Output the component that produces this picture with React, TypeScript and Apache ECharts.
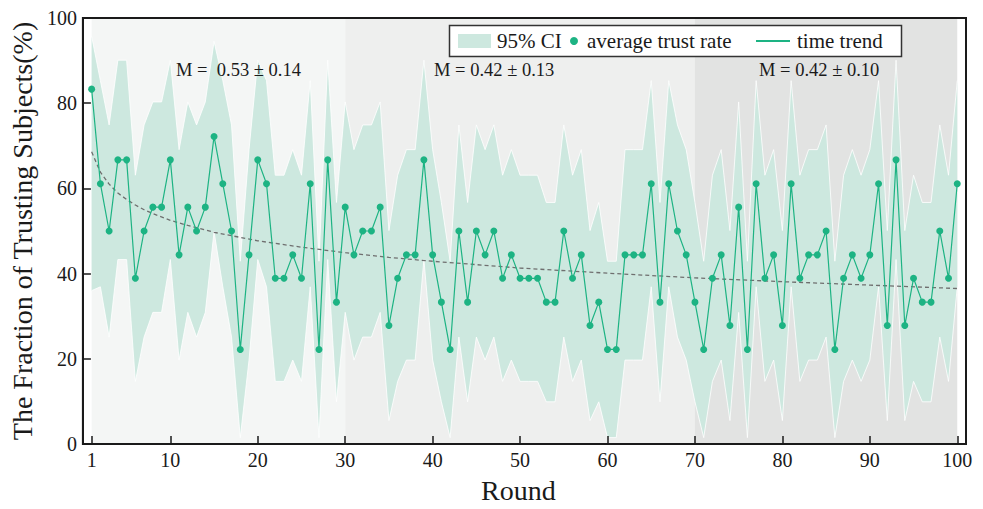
import React, { useEffect, useRef } from "react";
import * as echarts from "echarts";

// Rounds 1..100 (x positions)
const rounds: number[] = Array.from({ length: 100 }, (_, i) => i + 1);

// Average trust rate (%) per round
const means: number[] = [
  83.3, 61.1, 50, 66.7, 66.7, 38.9, 50, 55.6, 55.6, 66.7,
  44.4, 55.6, 50, 55.6, 72.2, 61.1, 50, 22.2, 44.4, 66.7,
  61.1, 38.9, 38.9, 44.4, 38.9, 61.1, 22.2, 66.7, 33.3, 55.6,
  44.4, 50, 50, 55.6, 27.8, 38.9, 44.4, 44.4, 66.7, 44.4,
  33.3, 22.2, 50, 33.3, 50, 44.4, 50, 38.9, 44.4, 38.9,
  38.9, 38.9, 33.3, 33.3, 50, 38.9, 44.4, 27.8, 33.3, 22.2,
  22.2, 44.4, 44.4, 44.4, 61.1, 33.3, 61.1, 50, 44.4, 33.3,
  22.2, 38.9, 44.4, 27.8, 55.6, 22.2, 61.1, 38.9, 44.4, 27.8,
  61.1, 38.9, 44.4, 44.4, 50, 22.2, 38.9, 44.4, 38.9, 44.4,
  61.1, 27.8, 66.7, 27.8, 38.9, 33.3, 33.3, 50, 38.9, 61.1,
];

// 95% CI upper bound per round
const ciUpper: number[] = [
  95.7, 85.3, 74.9, 90.1, 90.1, 63.1, 74.9, 80.3, 80.3, 90.1,
  69.1, 80.3, 74.9, 80.3, 94.5, 85.3, 74.9, 42.9, 69.1, 90.1,
  85.3, 63.1, 63.1, 69.1, 63.1, 85.3, 42.9, 90.1, 56.7, 80.3,
  69.1, 74.9, 74.9, 80.3, 50.1, 63.1, 69.1, 69.1, 90.1, 69.1,
  56.7, 42.9, 74.9, 56.7, 74.9, 69.1, 74.9, 63.1, 69.1, 63.1,
  63.1, 63.1, 56.7, 56.7, 74.9, 63.1, 69.1, 50.1, 56.7, 42.9,
  42.9, 69.1, 69.1, 69.1, 85.3, 56.7, 85.3, 74.9, 69.1, 56.7,
  42.9, 63.1, 69.1, 50.1, 80.3, 42.9, 85.3, 63.1, 69.1, 50.1,
  85.3, 63.1, 69.1, 69.1, 74.9, 42.9, 63.1, 69.1, 63.1, 69.1,
  85.3, 50.1, 90.1, 50.1, 63.1, 56.7, 56.7, 74.9, 63.1, 85.3,
];

// 95% CI lower bound per round
const ciLower: number[] = [
  36.0, 36.9, 25.1, 43.3, 43.3, 14.7, 25.1, 30.9, 30.9, 43.3,
  19.7, 30.9, 25.1, 30.9, 49.9, 36.9, 25.1, 1.5, 19.7, 43.3,
  36.9, 14.7, 14.7, 19.7, 14.7, 36.9, 1.5, 43.3, 9.9, 30.9,
  19.7, 25.1, 25.1, 30.9, 5.5, 14.7, 19.7, 19.7, 43.3, 19.7,
  9.9, 1.5, 25.1, 9.9, 25.1, 19.7, 25.1, 14.7, 19.7, 14.7,
  14.7, 14.7, 9.9, 9.9, 25.1, 14.7, 19.7, 5.5, 9.9, 1.5,
  1.5, 19.7, 19.7, 19.7, 36.9, 9.9, 36.9, 25.1, 19.7, 9.9,
  1.5, 14.7, 19.7, 5.5, 30.9, 1.5, 36.9, 14.7, 19.7, 5.5,
  36.9, 14.7, 19.7, 19.7, 25.1, 1.5, 14.7, 19.7, 14.7, 19.7,
  36.9, 5.5, 43.3, 5.5, 14.7, 9.9, 9.9, 25.1, 14.7, 36.9,
];

// Time trend (dashed) read at selected rounds
const trendRounds: number[] = [1, 2, 3, 4, 5, 6, 7, 8, 10, 12, 15, 20, 25, 30, 35, 40, 50, 60, 70, 80, 90, 100];
const trendValues: number[] = [68.6, 63.8, 61.0, 58.9, 57.4, 56.1, 55.0, 54.1, 52.5, 51.3, 49.7, 47.7, 46.2, 44.9, 43.8, 42.9, 41.3, 40.1, 39.0, 38.1, 37.3, 36.5];

// Phase shading ranges (rounds)
const phaseStarts: number[] = [1, 30, 70];
const phaseEnds: number[] = [30, 70, 100];
const phaseLabels: string[] = ["M =\u00a0 0.53 ± 0.14", "M = 0.42 ± 0.13", "M = 0.42 ± 0.10"];

const xTickValues: number[] = [1, 10, 20, 30, 40, 50, 60, 70, 80, 90, 100];

const GREEN = "#1db383";
const BAND = "#cde8df";
const SERIF = "'Liberation Serif', 'Times New Roman', serif";
const INK = "#1a1a1a";

export default function App() {
  const ref = useRef<HTMLDivElement>(null);

  useEffect(() => {
    if (!ref.current) return;
    const chart = echarts.init(ref.current, undefined, { renderer: "svg" });
    const phaseColors = ["#f4f6f5", "#eeefee", "#e2e3e2"];

    const option: any = {
      animation: false,
      backgroundColor: "#ffffff",
      grid: {
        left: 82,
        right: 17,
        top: 18,
        bottom: 59,
        show: true,
        borderColor: INK,
        borderWidth: 2,
        backgroundColor: "transparent",
        z: 10,
      },
      xAxis: {
        type: "value",
        min: 0,
        max: 101,
        splitLine: { show: false },
        axisLine: { show: true, lineStyle: { color: INK, width: 2 } },
        axisTick: { show: true, inside: true, length: 8, customValues: xTickValues, lineStyle: { color: INK, width: 1.5 } },
        axisLabel: { customValues: xTickValues, fontFamily: SERIF, fontSize: 20, color: INK, margin: 6 },
        name: "Round",
        nameLocation: "middle",
        nameGap: 32,
        nameTextStyle: { fontFamily: SERIF, fontSize: 28, color: INK, padding: [0, 12, 0, 0] },
        z: 11,
      },
      yAxis: {
        type: "value",
        min: 0,
        max: 100,
        interval: 20,
        splitLine: { show: false },
        axisLine: { show: true, lineStyle: { color: INK, width: 2 } },
        axisTick: { show: true, inside: true, length: 8, lineStyle: { color: INK, width: 1.5 } },
        axisLabel: { fontFamily: SERIF, fontSize: 20, color: INK, margin: 6 },
        name: "The Fraction of Trusting Subjects(%)",
        nameLocation: "middle",
        nameGap: 40,
        nameTextStyle: { fontFamily: SERIF, fontSize: 28, color: INK },
        z: 11,
      },
      series: [
        {
          name: "phases",
          type: "line",
          data: rounds.map((r, i) => [r, means[i]]),
          symbol: "none",
          lineStyle: { opacity: 0, width: 0 },
          silent: true,
          z: 1,
          markArea: {
            silent: true,
            data: phaseStarts.map((s, i) => [
              { xAxis: s, itemStyle: { color: phaseColors[i] } },
              { xAxis: phaseEnds[i] },
            ]),
          },
        },
        {
          name: "95% CI",
          type: "custom",
          z: 2,
          silent: true,
          data: rounds.map((r, i) => [r, ciLower[i], ciUpper[i]]),
          encode: { x: 0, y: [1, 2] },
          renderItem: (params: any, api: any) => {
            if (params.dataIndex !== 0) return null;
            const up = rounds.map((r, i) => api.coord([r, ciUpper[i]]));
            const lo = rounds.map((r, i) => api.coord([r, ciLower[i]]));
            const poly = up.concat(lo.slice().reverse());
            return {
              type: "group",
              children: [
                { type: "polygon", shape: { points: poly }, style: { fill: BAND, stroke: null } },
                { type: "polyline", shape: { points: up }, style: { stroke: "#ffffff", lineWidth: 0.8, fill: null } },
                { type: "polyline", shape: { points: lo }, style: { stroke: "#ffffff", lineWidth: 0.8, fill: null } },
              ],
            };
          },
        },
        {
          name: "time trend",
          type: "line",
          data: trendRounds.map((r, i) => [r, trendValues[i]]),
          smooth: false,
          symbol: "none",
          lineStyle: { color: "#6f6f6f", width: 1.3, type: [4, 3] },
          silent: true,
          z: 3,
        },
        {
          name: "average trust rate",
          type: "line",
          data: rounds.map((r, i) => [r, means[i]]),
          symbol: "circle",
          symbolSize: 7,
          showAllSymbol: true,
          lineStyle: { color: GREEN, width: 1.2 },
          itemStyle: { color: GREEN },
          silent: true,
          z: 4,
        },
      ],
      graphic: [
        // phase annotations
        { type: "text", left: 176, top: 60, z: 20, style: { text: phaseLabels[0], font: `18.5px ${SERIF}`, fill: INK } },
        { type: "text", left: 434, top: 60, z: 20, style: { text: phaseLabels[1], font: `18.5px ${SERIF}`, fill: INK } },
        { type: "text", left: 759, top: 60, z: 20, style: { text: phaseLabels[2], font: `18.5px ${SERIF}`, fill: INK } },
        // legend
        {
          type: "rect", z: 20,
          shape: { x: 449.5, y: 25.5, width: 452, height: 31 },
          style: { fill: "#ffffff", stroke: "#333333", lineWidth: 1.5 },
        },
        { type: "rect", z: 21, shape: { x: 458, y: 34, width: 33, height: 14 }, style: { fill: BAND } },
        { type: "text", z: 21, x: 497, y: 41, style: { text: "95% CI", font: `21px ${SERIF}`, fill: INK, verticalAlign: "middle", align: "left" } },
        { type: "circle", z: 21, shape: { cx: 574, cy: 41, r: 4 }, style: { fill: GREEN } },
        { type: "text", z: 21, x: 587, y: 41, style: { text: "average trust rate", font: `21px ${SERIF}`, fill: INK, verticalAlign: "middle", align: "left" } },
        { type: "line", z: 21, shape: { x1: 756, y1: 41, x2: 790, y2: 41 }, style: { stroke: GREEN, lineWidth: 2 } },
        { type: "text", z: 21, x: 797, y: 41, style: { text: "time trend", font: `21px ${SERIF}`, fill: INK, verticalAlign: "middle", align: "left" } },
      ],
    };

    chart.setOption(option);
    return () => chart.dispose();
  }, []);

  return (
    <div
      ref={ref}
      style={{ position: "fixed", left: 0, top: 0, width: 983, height: 509, background: "#fff" }}
    />
  );
}
